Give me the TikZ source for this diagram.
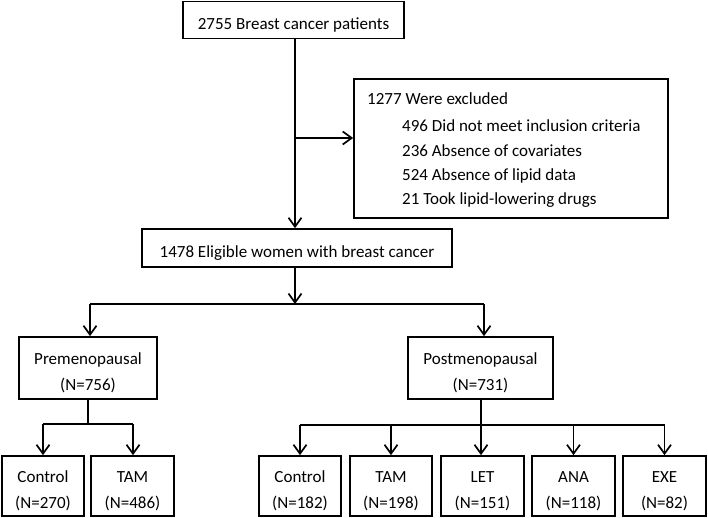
\documentclass[tikz,border=0pt]{standalone}
\usepackage{fontspec}
\setmainfont{Carlito}
\usetikzlibrary{arrows.meta}
\newcommand\upstrut{\rule{0pt}{21pt}}
\begin{document}
\begin{tikzpicture}[x=1pt,y=-1pt,
  box/.style={draw=black,line width=1.7pt,rectangle,inner sep=0pt,align=center,
    font=\fontsize{17}{26}\selectfont},
  conn/.style={line width=1.7pt},
  arr/.style={conn,-{Straight Barb[length=9pt,width=13pt,line width=1.7pt]}},
  txt/.style={inner sep=0pt,font=\fontsize{17}{24.3}\selectfont,align=left}]
\useasboundingbox (0,0) rectangle (708,518);
% boxes
\node[box,minimum width=221pt,minimum height=37pt] (top) at (293.5,20) {\upstrut 2755 Breast cancer patients};
\node[box,minimum width=314pt,minimum height=139pt] (excl) at (511,148.5) {};
\node[txt,anchor=north west] (excltxt) at (367,92)
  {1277 Were excluded\\[3.5pt]
   \hspace*{35pt}496 Did not meet inclusion criteria\\
   \hspace*{35pt}236 Absence of covariates\\
   \hspace*{35pt}524 Absence of lipid data\\
   \hspace*{35pt}21 Took lipid-lowering drugs};
\node[box,minimum width=310pt,minimum height=38pt] (elig) at (297,248) {\upstrut 1478 Eligible women with breast cancer};
\node[box,minimum width=138pt,minimum height=62pt] (pre) at (88,368) {\upstrut Premenopausal\\(N=756)};
\node[box,minimum width=145pt,minimum height=62pt] (post) at (480.5,368) {\upstrut Postmenopausal\\(N=731)};
\node[box,minimum width=82pt,minimum height=60pt] (c1) at (43,486) {\upstrut Control\\(N=270)};
\node[box,minimum width=83pt,minimum height=60pt] (t1) at (132.5,486) {\upstrut TAM\\(N=486)};
\node[box,minimum width=82pt,minimum height=60pt] (c2) at (300,486) {\upstrut Control\\(N=182)};
\node[box,minimum width=82pt,minimum height=60pt] (t2) at (391,486) {\upstrut TAM\\(N=198)};
\node[box,minimum width=83pt,minimum height=60pt] (let) at (482.5,486) {\upstrut LET\\(N=151)};
\node[box,minimum width=83pt,minimum height=60pt] (ana) at (573.5,486) {\upstrut ANA\\(N=118)};
\node[box,minimum width=83pt,minimum height=60pt] (exe) at (664.5,486) {\upstrut EXE\\(N=82)};
% junction coordinates
\coordinate (j1) at (295,138);
\coordinate (s) at (295,304);
\coordinate (sl) at (90,304);
\coordinate (sr) at (484,304);
\coordinate (lb) at (88,424);
\coordinate (lbl) at (43,424);
\coordinate (lbr) at (133,424);
\coordinate (rb) at (481,425);
\coordinate (rbl) at (300,425);
\coordinate (rbr) at (665,425);
% connectors
\draw[arr] (top.south -| j1) -- (elig.north -| j1);
\draw[arr] (j1) -- (j1 -| excl.west);
\draw[arr] (elig.south -| s) -- (s);
\draw[conn] (sl) -- (sr);
\draw[arr] (sl) -- (sl |- pre.north);
\draw[arr] (sr) -- (sr |- post.north);
\draw[conn] (pre.south) -- (lb);
\draw[conn] (lbl) -- (lbr);
\draw[arr] (lbl) -- (c1.north);
\draw[arr] (lbr) -- (lbr |- t1.north);
\draw[conn] (post.south -| rb) -- (rb);
\draw[conn] (rbl) -- (rbr);
\draw[arr] (rbl) -- (c2.north);
\draw[arr] (rbl -| t2) -- (t2.north);
\draw[arr] (rb) -- (rb |- let.north);
\draw[arr] (rbl -| ana) -- (ana.north);
\draw[arr] (rbl -| exe) -- (exe.north);
\end{tikzpicture}
\end{document}
